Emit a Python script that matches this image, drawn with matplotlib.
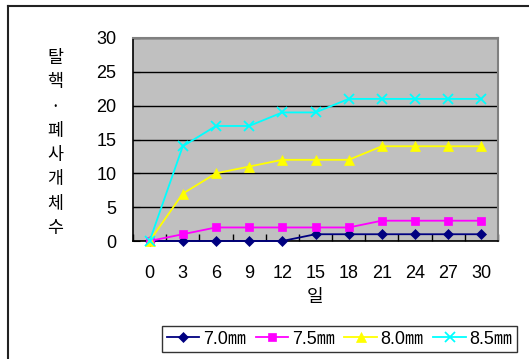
import numpy as np
import matplotlib.pyplot as plt
from matplotlib.lines import Line2D

plt.rcParams['font.family'] = ['Liberation Sans', 'Noto Sans CJK KR', 'DejaVu Sans']

# 경과 일수와 크기별 개체수
days = [0, 3, 6, 9, 12, 15, 18, 21, 24, 27, 30]
s70 = [0, 0, 0, 0, 0, 1, 1, 1, 1, 1, 1]
s75 = [0, 1, 2, 2, 2, 2, 2, 3, 3, 3, 3]
s80 = [0, 7, 10, 11, 12, 12, 12, 14, 14, 14, 14]
s85 = [0, 14, 17, 17, 19, 19, 21, 21, 21, 21, 21]
labels = ['7.0㎜', '7.5㎜', '8.0㎜', '8.5㎜']
yticks = [0, 5, 10, 15, 20, 25, 30]

fig = plt.figure(figsize=(5.29, 3.59), dpi=100)
ax = fig.add_axes([133/529, 1 - 241/359, 365/529, 203/359])
ax.set_facecolor('#C0C0C0')

x = np.arange(len(days))
series = [
    (s70, '#000080', 'D', 5),
    (s75, '#FF00FF', 's', 6),
    (s80, '#FFFF00', '^', 7),
    (s85, '#00FFFF', 'x', 7),
]
for (vals, col, mk, ms), lab in zip(series, labels):
    ax.plot(x, vals, color=col, marker=mk, markersize=ms, lw=1.3,
            markeredgewidth=1.3 if mk == 'x' else 0.5, markeredgecolor=col,
            label=lab, clip_on=False, zorder=3)

ax.set_xlim(-0.5, len(days) - 0.5)
ax.set_ylim(0, 30)
ax.set_yticks(yticks)
ax.set_xticks(x)
ax.set_xticklabels([str(d) for d in days])
ax.set_xticks(np.arange(-0.5, len(days)), minor=True)
ax.tick_params(axis='x', which='major', length=0, pad=17, labelsize=13)
ax.tick_params(axis='x', which='minor', length=5, direction='in', width=1)
ax.tick_params(axis='y', length=5, direction='in', pad=12, labelsize=13)
ax.yaxis.grid(True, color='black', lw=1)
ax.set_axisbelow(True)

for s in ['top', 'right']:
    ax.spines[s].set_color('#808080')
    ax.spines[s].set_linewidth(1.5)
for s in ['left', 'bottom']:
    ax.spines[s].set_color('black')
    ax.spines[s].set_linewidth(1.2)

ax.set_xlabel('일', fontsize=13, labelpad=5)
fig.text(55/529, 1 - 143/359, '\n'.join('탈핵·폐사개체수'), fontsize=12.5,
         family=['Noto Sans CJK KR'], ha='center', va='center', linespacing=1.45)

# 바깥 테두리
fig.add_artist(Line2D([8/529, 8/529], [0, 1 - 6/359], color='#222222', lw=1.5))
fig.add_artist(Line2D([8/529, 1], [1 - 6/359, 1 - 6/359], color='#222222', lw=1.5))

leg = fig.legend(loc='center', bbox_to_anchor=((167 + 512) / 2 / 529, 1 - 339/359),
                 ncol=4, fontsize=13, frameon=True, fancybox=False,
                 handlelength=1.8, handletextpad=0.2, columnspacing=0.55,
                 borderpad=0.25, borderaxespad=0)
leg.get_frame().set_edgecolor('black')
leg.get_frame().set_linewidth(1)

fig.savefig('out.png', dpi=100)
